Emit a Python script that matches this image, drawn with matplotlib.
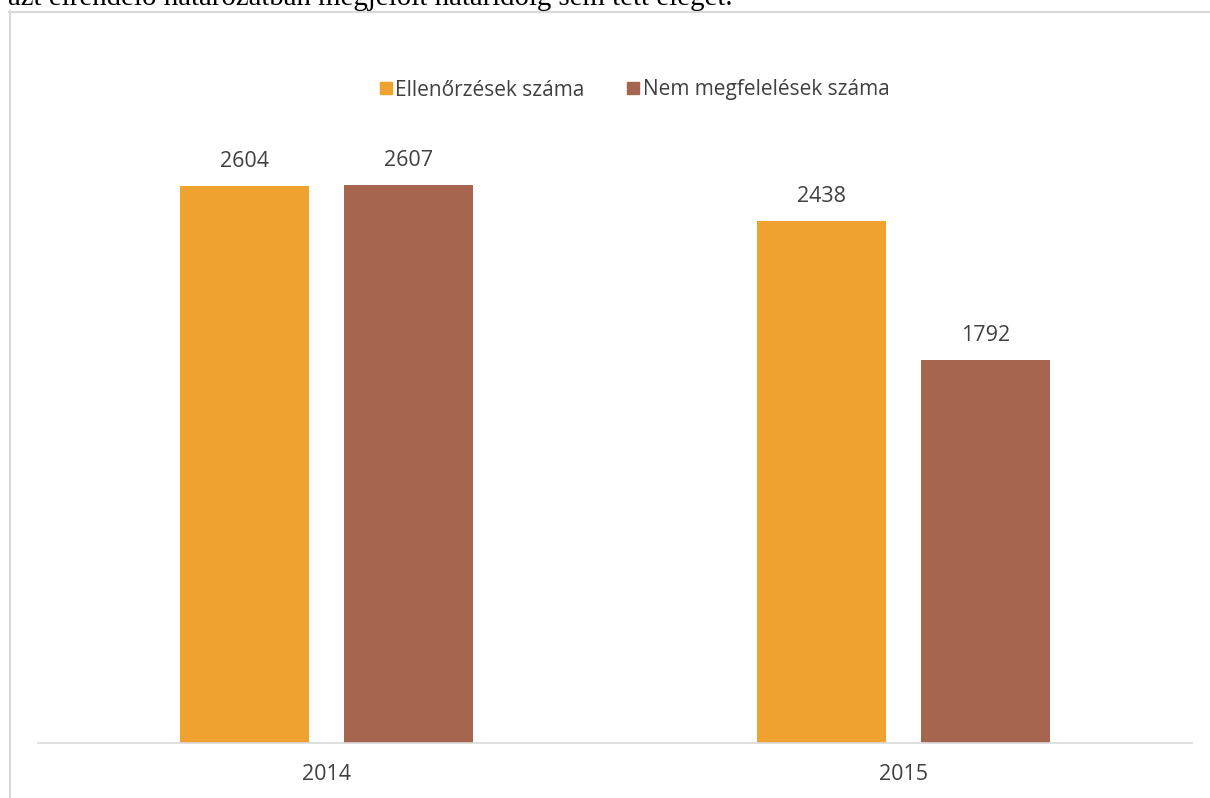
import matplotlib
matplotlib.use("Agg")
import matplotlib.pyplot as plt
import numpy as np
from matplotlib.lines import Line2D

categories = ["2014", "2015"]
series_names = ["Ellenőrzések száma", "Nem megfelelések száma"]
ellenorzesek = [2604, 2438]
nem_megfeleles = [2607, 1792]
colors = ["#EFA22F", "#A6654E"]
top_text = "azt elrendelő határozatban megjelölt határidőig sem tett eleget."

W, H = 1210, 798
fig = plt.figure(figsize=(W / 100, H / 100), dpi=100)
plt.rcParams["font.family"] = ["Open Sans", "DejaVu Sans"]

# axes geometry in pixels
ax_left, ax_right = 38, 1192
ax_bottom, ax_top = 743, 101
ax = fig.add_axes([ax_left / W, 1 - ax_bottom / H,
                   (ax_right - ax_left) / W, (ax_bottom - ax_top) / H])

x = np.arange(len(categories))
width = 0.2236
offset = 0.1421
b1 = ax.bar(x - offset, ellenorzesek, width, color=colors[0], label=series_names[0])
b2 = ax.bar(x + offset, nem_megfeleles, width, color=colors[1], label=series_names[1])

for bars in (b1, b2):
    for rect in bars:
        h = rect.get_height()
        ax.annotate(f"{int(h)}", (rect.get_x() + rect.get_width() / 2, h),
                    xytext=(0, 10), textcoords="offset points",
                    ha="center", va="bottom", fontsize=15.5, color="#404040")

ax.set_xlim(-0.5, 1.5)
ax.set_ylim(0, 3000)
ax.set_xticks(x)
ax.set_xticklabels(categories, fontsize=15.5, color="#404040")
ax.tick_params(axis="x", length=0, pad=15)
ax.set_yticks([])
for s in ("top", "right", "left"):
    ax.spines[s].set_visible(False)
ax.spines["bottom"].set_color("#D9D9D9")
ax.spines["bottom"].set_linewidth(1.2)

handles = [Line2D([0], [0], marker="s", linestyle="none", markersize=8,
                  markerfacecolor=c, markeredgecolor=c) for c in colors]
fig.legend(handles, series_names, loc="center", ncol=2,
           bbox_to_anchor=(634 / W, 1 - 90 / H), frameon=False,
           fontsize=15, handletextpad=0.1, columnspacing=2.0,
           handlelength=0.7, labelcolor="#404040")

# outer frame (top and left visible)
fig.add_artist(Line2D([9.5 / W, 9.5 / W], [0, 1 - 11 / H], color="#D9D9D9",
                      linewidth=1.5, transform=fig.transFigure))
fig.add_artist(Line2D([9 / W, 1], [1 - 11.5 / H, 1 - 11.5 / H], color="#D9D9D9",
                      linewidth=1.5, transform=fig.transFigure))

# cut-off line of document text at the top (as in the reference)
fig.text(8 / W, 1 - 5 / H, top_text, family=["Liberation Serif", "DejaVu Serif"],
         fontsize=20.8, ha="left", va="baseline", color="black")

fig.savefig("out.png", dpi=100)
